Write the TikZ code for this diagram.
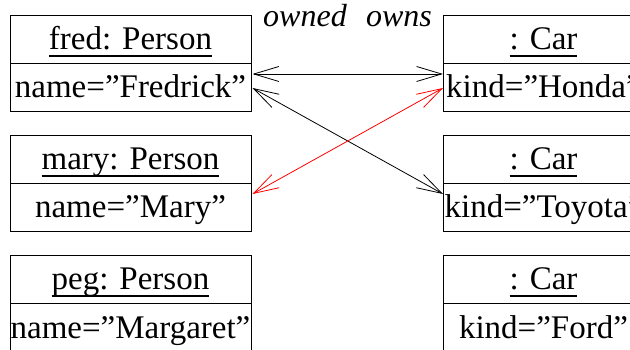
\documentclass[tikz,border=0pt]{standalone}
\usepackage{fontspec}
\setmainfont{Liberation Serif}
\usetikzlibrary{arrows.meta}
\newsavebox\myulbox
\newcommand\myul[1]{\sbox\myulbox{#1}\rlap{\raisebox{-7pt}[0pt][0pt]{\rule{\wd\myulbox}{1.8pt}}}\usebox\myulbox}
\begin{document}
\begin{tikzpicture}[x=1pt,y=-1pt,
  every node/.style={font=\fontsize{33}{40}\selectfont, inner sep=0pt, outer sep=0pt},
  pbox/.style={draw, line width=0.9pt, minimum width=241, minimum height=48, text height=26pt, text depth=4pt},
  cbox/.style={draw, line width=0.9pt, minimum width=201, minimum height=48, text height=26pt, text depth=4pt},
  role/.style={font=\fontsize{32}{40}\selectfont\itshape, anchor=base},
  assoc/.style={line width=0.8pt, {Straight Barb[length=25pt,width=15pt]}-{Straight Barb[length=25pt,width=15pt]}},
  redassoc/.style={assoc, red}]
\useasboundingbox (0,0) rectangle (630,350);
\clip (0,0) rectangle (630,350);
% persons
\node[pbox] (fredh) at (130.5,39) {\myul{fred: Person}};
\node[pbox] (freda) at (130.5,87) {name=''Fredrick''};
\node[pbox] (maryh) at (130.5,159) {\myul{mary: Person}};
\node[pbox] (marya) at (130.5,207) {name=''Mary''};
\node[pbox] (pegh) at (130.5,279) {\myul{peg: Person}};
\node[pbox] (pega) at (130.5,327) {name=''Margaret''};
% cars
\node[cbox] (hondah) at (543.5,39) {\myul{: Car}};
\node[cbox] (hondaa) at (543.5,87) {kind=''Honda''};
\node[cbox] (toyotah) at (543.5,159) {\myul{: Car}};
\node[cbox] (toyotaa) at (543.5,207) {kind=''Toyota''};
\node[cbox] (fordh) at (543.5,279) {\myul{: Car}};
\node[cbox] (forda) at (543.5,327) {kind=''Ford''};
% role labels
\node[role] (owned) at (305,27) {owned};
\node[role] (owns) at (399,27) {owns};
% associations
\draw[assoc] ([shift={(1.5,-13)}]freda.east) -- ([shift={(0,-13)}]hondaa.west);
\draw[assoc] ([shift={(1.5,1)}]freda.east) -- ([shift={(0,-13)}]toyotaa.west);
\draw[redassoc] ([shift={(0,1)}]hondaa.west) -- ([shift={(1.5,-13)}]marya.east);
\end{tikzpicture}
\end{document}
